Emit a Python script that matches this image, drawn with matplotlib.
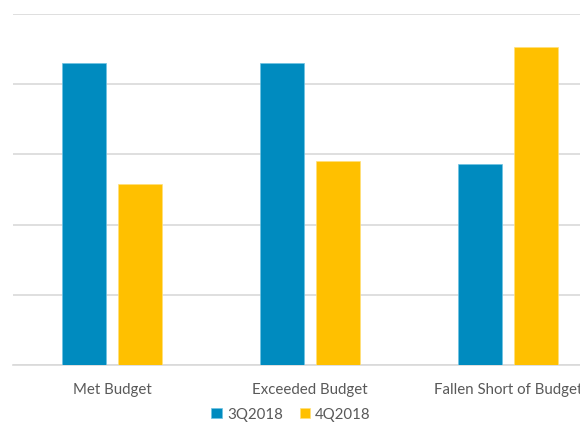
import matplotlib
matplotlib.use("Agg")
import matplotlib.pyplot as plt
import numpy as np

categories = ["Met Budget", "Exceeded Budget", "Fallen Short of Budget"]
series_names = ["3Q2018", "4Q2018"]
q3_values = [4.3, 4.3, 2.87]
q4_values = [2.58, 2.9, 4.53]
colors = ["#008BBF", "#FFC000"]

plt.rcParams['font.family'] = ['Lato', 'DejaVu Sans']

W, H = 580, 435
fig = plt.figure(figsize=(W / 100, H / 100), dpi=100)
ax = fig.add_axes([13 / W, (H - 366) / H, 594 / W, 351 / H])

x = np.arange(len(categories))
bw = 0.222
off = 0.141
ax.bar(x - off, q3_values, bw, color=colors[0], edgecolor="#6FC3E3", linewidth=0.5, label=series_names[0], zorder=3)
ax.bar(x + off, q4_values, bw, color=colors[1], edgecolor="#FFE07A", linewidth=0.5, label=series_names[1], zorder=3)

ax.set_xlim(-0.5, 2.5)
ax.set_ylim(0, 5)
ax.set_yticks(np.arange(0, 6, 1))
ax.yaxis.grid(True, color="#D9D9D9", linewidth=1.2, zorder=0)
ax.set_yticklabels([])
ax.tick_params(axis='y', length=0)
ax.set_xticks(x)
ax.set_xticklabels(categories, fontsize=10.8, color="#595959")
ax.tick_params(axis='x', length=0, pad=12)
for s in ["top", "right", "left"]:
    ax.spines[s].set_visible(False)
ax.spines["bottom"].set_color("#D9D9D9")
ax.spines["bottom"].set_linewidth(1.2)

fig.legend(loc="center", bbox_to_anchor=(0.502, 1 - 415 / H), ncol=2, frameon=False,
           fontsize=10.8, labelcolor="#595959", handlelength=0.7, handleheight=0.7,
           handletextpad=0.35, columnspacing=1.1)

fig.savefig("out.png", dpi=100)
